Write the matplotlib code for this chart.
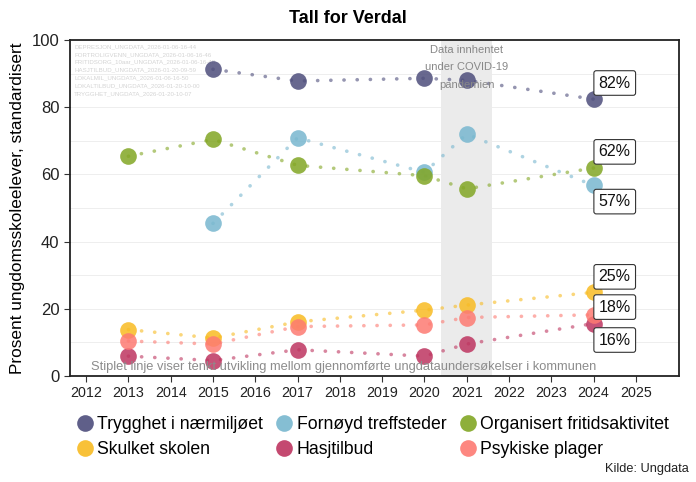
import matplotlib
matplotlib.use("Agg")
import matplotlib.pyplot as plt
import numpy as np

plt.rcParams['font.family'] = ['Liberation Sans', 'DejaVu Sans']

series_names = ["Trygghet i nærmiljøet", "Fornøyd treffsteder", "Organisert fritidsaktivitet",
                "Skulket skolen", "Hasjtilbud", "Psykiske plager"]
colors = ["#4E4E7C", "#78B7CF", "#82A624", "#F8BB22", "#BE3560", "#FD7A72"]

trygghet_years = [2015, 2017, 2020, 2021, 2024]
trygghet_vals = [91.3, 87.8, 88.6, 88.0, 82.4]
fornoyd_years = [2015, 2017, 2020, 2021, 2024]
fornoyd_vals = [45.4, 70.9, 60.6, 72.0, 56.7]
organisert_years = [2013, 2015, 2017, 2020, 2021, 2024]
organisert_vals = [65.4, 70.4, 62.7, 59.6, 55.7, 61.9]
skulket_years = [2013, 2015, 2017, 2020, 2021, 2024]
skulket_vals = [13.8, 11.3, 16.1, 19.6, 21.1, 24.9]
hasj_years = [2013, 2015, 2017, 2020, 2021, 2024]
hasj_vals = [5.9, 4.6, 7.8, 5.9, 9.5, 15.6]
psyk_years = [2013, 2015, 2017, 2020, 2021, 2024]
psyk_vals = [10.4, 9.5, 14.7, 15.2, 17.4, 18.2]

label_texts = ["82%", "57%", "62%", "25%", "16%", "18%"]
label_offsets = [4.8, -4.8, 4.8, 4.6, -4.9, 2.3]

xticks = list(range(2012, 2026))
yticks = [0, 20, 40, 60, 80, 100]

all_years = [trygghet_years, fornoyd_years, organisert_years, skulket_years, hasj_years, psyk_years]
all_vals = [trygghet_vals, fornoyd_vals, organisert_vals, skulket_vals, hasj_vals, psyk_vals]

fig = plt.figure(figsize=(6.96, 4.82), dpi=100)
ax = fig.add_axes([0.1006, 0.22, 0.875, 0.697])

ax.set_xlim(2011.62, 2026.02)
ax.set_ylim(0, 100)

ax.axvspan(2020.4, 2021.6, color="#e6e6e6", alpha=0.8, zorder=0, lw=0)
for g in range(10, 100, 10):
    ax.axhline(g, color="#ebebeb", lw=0.6, zorder=0.5)

handles = []
for yrs, vals, c, name in zip(all_years, all_vals, colors, series_names):
    ax.plot(yrs, vals, linestyle=(0, (0.05, 3.6)), lw=2.6, color=c, alpha=0.6, zorder=2,
            dash_capstyle='round')
    h = ax.plot(yrs, vals, linestyle='none', marker='o', markersize=12, color=c,
                alpha=0.85, markeredgewidth=0, zorder=3, label=name)[0]
    handles.append(h)

for yrs, vals, txt, off in zip(all_years, all_vals, label_texts, label_offsets):
    ax.text(yrs[-1] + 0.5, vals[-1] + off, txt, ha='center', va='center', fontsize=11.5,
            color='#111111', zorder=5,
            bbox=dict(boxstyle='round,pad=0.3,rounding_size=0.15', fc='white', ec='#333333', lw=0.8))

ax.text(2021.0, 98.6, "Data innhentet\nunder COVID-19\npandemien", ha='center', va='top',
        fontsize=8, color='#888888', linespacing=1.95, zorder=4)

files = ["DEPRESJON_UNGDATA_2026-01-06-16-44",
         "FORTROLIGVENN_UNGDATA_2026-01-06-16-46",
         "FRITIDSORG_10aar_UNGDATA_2026-01-06-16-48",
         "HASJTILBUD_UNGDATA_2026-01-20-09-59",
         "LOKALMIL_UNGDATA_2026-01-06-16-50",
         "LOKALTILBUD_UNGDATA_2026-01-20-10-00",
         "TRYGGHET_UNGDATA_2026-01-20-10-07"]
ax.text(2011.72, 98.8, "\n".join(files), ha='left', va='top', fontsize=4.4, color='#d4d4d4',
        linespacing=1.7, zorder=1)

ax.text(2018.1, 2.6, "Stiplet linje viser tenkt utvikling mellom gjennomførte ungdataundersøkelser i kommunen",
        ha='center', va='center', fontsize=9.3, color='#8c8c8c', zorder=4)

ax.set_xticks(xticks)
ax.set_xticklabels([str(x) for x in xticks], fontsize=10.3, color='#222222')
ax.set_yticks(yticks)
ax.set_yticklabels([str(y) for y in yticks], fontsize=12, color='#222222')
ax.tick_params(axis='both', length=4, width=0.8, color='#333333')
for s in ax.spines.values():
    s.set_linewidth(1.3)
    s.set_color('#222222')
ax.set_ylabel("Prosent ungdomsskoleelever, standardisert", fontsize=12.4, labelpad=5)

fig.text(0.5, 0.962, "Tall for Verdal", ha='center', va='center', fontsize=13, fontweight='bold')

order = [0, 3, 1, 4, 2, 5]
leg = fig.legend(handles=[handles[i] for i in order], loc='center', bbox_to_anchor=(0.534, 0.093),
                 ncol=3, frameon=False, fontsize=12.7, handletextpad=0.12, columnspacing=0.6,
                 handlelength=1.2, labelspacing=0.45, markerscale=1.0)
for lh in leg.legend_handles:
    lh.set_alpha(0.9)

fig.text(0.99, 0.015, "Kilde: Ungdata", ha='right', va='bottom', fontsize=9.2, color='#222222')

fig.savefig("out.png", dpi=100)
